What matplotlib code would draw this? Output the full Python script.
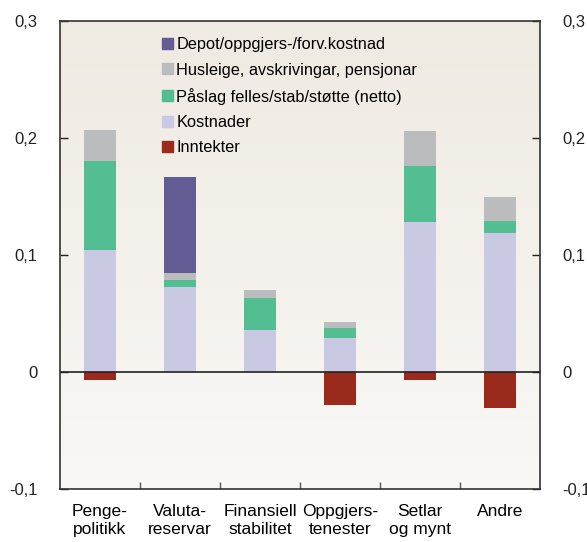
import numpy as np
import matplotlib.pyplot as plt
from matplotlib.colors import LinearSegmentedColormap

plt.rcParams['font.family'] = ['Liberation Sans', 'DejaVu Sans']

categories = ["Penge-\npolitikk", "Valuta-\nreservar", "Finansiell\nstabilitet",
              "Oppgjers-\ntenester", "Setlar\nog mynt", "Andre"]
kostnader = [0.104, 0.073, 0.036, 0.029, 0.128, 0.119]
paaslag = [0.076, 0.006, 0.027, 0.009, 0.048, 0.010]
husleige = [0.027, 0.006, 0.007, 0.005, 0.030, 0.021]
depot = [0.0, 0.082, 0.0, 0.0, 0.0, 0.0]
inntekter = [-0.007, 0.0, 0.0, -0.028, -0.007, -0.031]

c_depot = "#635b93"
c_hus = "#bbbcbe"
c_paa = "#52be91"
c_kost = "#c9c9e4"
c_inn = "#9a2b1c"

fig = plt.figure(figsize=(5.87, 5.42), dpi=100)
ax = fig.add_axes([60/587, 53/542, 480/587, 468/542])

x = np.arange(len(categories))
w = 0.4

# background gradient
grad = np.linspace(0, 1, 256).reshape(-1, 1)
cmap = LinearSegmentedColormap.from_list("bg", ["#f9f8f5", "#efeae2"])
ax.imshow(grad, cmap=cmap, aspect='auto', extent=[-0.5, 5.5, 0.3, -0.1], zorder=0)

b1 = np.array(kostnader)
b2 = b1 + np.array(paaslag)
b3 = b2 + np.array(husleige)
ax.bar(x, kostnader, w, color=c_kost, zorder=2)
ax.bar(x, paaslag, w, bottom=b1, color=c_paa, zorder=2)
ax.bar(x, husleige, w, bottom=b2, color=c_hus, zorder=2)
ax.bar(x, depot, w, bottom=b3, color=c_depot, zorder=2)
ax.bar(x, inntekter, w, color=c_inn, zorder=2)

ax.axhline(0, color="#222222", lw=1.2, zorder=3)

ax.set_xlim(-0.5, 5.5)
ax.set_ylim(-0.1, 0.3)

yt = [-0.1, 0, 0.1, 0.2, 0.3]
ylab = ["-0,1", "0", "0,1", "0,2", "0,3"]
ax.set_yticks(yt)
ax.set_yticklabels(ylab)
ax.tick_params(axis='y', direction='in', length=6, width=1, labelsize=12, pad=16,
               right=True, labelright=True, colors="#222222")

ax.set_xticks(x)
ax.set_xticklabels(categories, fontsize=12.5, linespacing=1.25)
ax.set_xticks(np.arange(0.5, 5.5, 1), minor=True)
ax.tick_params(axis='x', which='major', length=0, pad=11)
ax.tick_params(axis='x', which='minor', direction='in', length=5, width=1, color="#555555")

for s in ax.spines.values():
    s.set_color("#333333")
    s.set_linewidth(1.2)

# legend
handles = [plt.Rectangle((0, 0), 1, 1, color=c) for c in [c_depot, c_hus, c_paa, c_kost, c_inn]]
labels = ["Depot/oppgjers-/forv.kostnad", "Husleige, avskrivingar, pensjonar",
          "Påslag felles/stab/støtte (netto)", "Kostnader", "Inntekter"]
ax.legend(handles, labels, loc='upper left', bbox_to_anchor=(0.179, 1.0), frameon=False,
          fontsize=11.8, handlelength=0.65, handleheight=0.65, handletextpad=0.2,
          labelspacing=0.62, borderaxespad=0.6)

fig.savefig("out.png", dpi=100)
